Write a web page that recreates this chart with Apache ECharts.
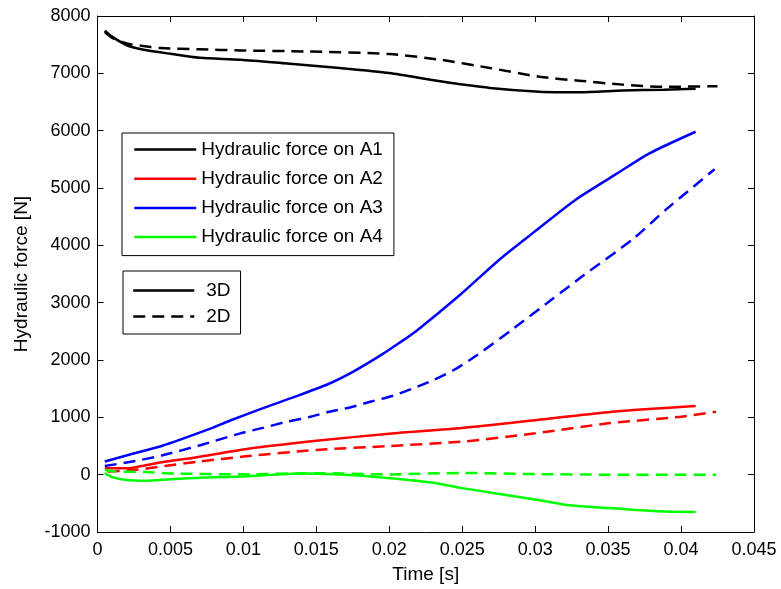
<!DOCTYPE html>
<html>
<head>
<meta charset="utf-8">
<title>Hydraulic force</title>
<script src="https://cdn.jsdelivr.net/npm/echarts@6/dist/echarts.min.js"></script>
<style>
  html, body { margin: 0; padding: 0; background: #fff; }
  #chart { width: 781px; height: 589px; }
</style>
</head>
<body>
<div id="chart"></div>
<script>
// Time samples [s] and hydraulic force [N] for each area, 3D and 2D models
const tA1_3D = [0.0005, 0.001, 0.002, 0.003, 0.005, 0.007, 0.0098, 0.013, 0.0166, 0.02, 0.0235, 0.0269, 0.0303, 0.033, 0.036, 0.0388, 0.041];
const fA1_3D = [7746, 7640, 7490, 7420, 7340, 7270, 7237, 7170, 7093, 7006, 6860, 6745, 6680, 6670, 6700, 6715, 6730];
const tA1_2D = [0.0005, 0.001, 0.002, 0.003, 0.0043, 0.007, 0.0098, 0.0143, 0.02, 0.0235, 0.0269, 0.0303, 0.033, 0.036, 0.0388, 0.0425];
const fA1_2D = [7720, 7620, 7520, 7480, 7440, 7420, 7399, 7381, 7336, 7237, 7093, 6940, 6872, 6803, 6765, 6775];

const tA2_3D = [0.0005, 0.002, 0.003, 0.0044, 0.0067, 0.01, 0.015, 0.02, 0.025, 0.03, 0.035, 0.041];
const fA2_3D = [113, 110, 150, 217, 300, 440, 590, 715, 815, 950, 1090, 1196];
const tA2_2D = [0.0007, 0.0026, 0.0046, 0.007, 0.01, 0.015, 0.02, 0.025, 0.03, 0.035, 0.04, 0.0424];
const fA2_2D = [55, 84, 150, 230, 316, 431, 500, 577, 721, 895, 1011, 1098];

const tA3_3D = [0.0005, 0.0021, 0.0044, 0.0075, 0.0091, 0.0114, 0.0136, 0.0159, 0.0175, 0.0194, 0.0207, 0.0219, 0.0248, 0.0276, 0.0299, 0.0328, 0.0356, 0.0378, 0.041];
const fA3_3D = [229, 344, 500, 780, 945, 1165, 1365, 1590, 1793, 2080, 2300, 2516, 3124, 3762, 4226, 4800, 5250, 5600, 5981];
const tA3_2D = [0.0005, 0.0026, 0.0044, 0.0071, 0.0098, 0.0114, 0.013, 0.0146, 0.0159, 0.0173, 0.0187, 0.0203, 0.0216, 0.023, 0.0244, 0.026, 0.0285, 0.0312, 0.0333, 0.0367, 0.039, 0.0423];
const fA3_2D = [150, 240, 333, 518, 721, 820, 924, 1011, 1098, 1173, 1272, 1380, 1503, 1647, 1821, 2082, 2546, 3067, 3472, 4109, 4631, 5326];

const tA4_3D = [0.0005, 0.001, 0.0019, 0.0033, 0.005, 0.0075, 0.01, 0.0141, 0.0178, 0.02, 0.0232, 0.025, 0.0301, 0.0324, 0.0351, 0.0385, 0.041];
const fA4_3D = [26, -40, -90, -107, -80, -50, -31, 20, -14, -61, -148, -235, -437, -535, -582, -640, -652];
const tA4_2D = [0.0005, 0.0012, 0.0033, 0.0053, 0.01, 0.015, 0.02, 0.025, 0.03, 0.035, 0.04, 0.0424];
const fA4_2D = [80, 55, 45, 20, 5, 26, 5, 30, 10, 0, 0, 0];

const areaNames = ['Hydraulic force on A1', 'Hydraulic force on A2', 'Hydraulic force on A3', 'Hydraulic force on A4'];
const modelNames = ['3D', '2D'];
const xTicks = { min: 0, max: 0.045, interval: 0.005 };
const yTicks = { min: -1000, max: 8000, interval: 1000 };

const colors = ['#000000', '#ff0000', '#0000ff', '#00ff00'];
const dash = [12, 7];
const FONT = 'Liberation Sans, Arial, sans-serif';
const LW = 2.5;

const pairs = (t, v) => t.map((x, i) => [x, v[i]]);

const curves = [
  [tA1_3D, fA1_3D, tA1_2D, fA1_2D],
  [tA2_3D, fA2_3D, tA2_2D, fA2_2D],
  [tA3_3D, fA3_3D, tA3_2D, fA3_2D],
  [tA4_3D, fA4_3D, tA4_2D, fA4_2D]
];

const lineSeries = (name, data, color, type) => ({
  name, type: 'line', data, symbol: 'none', silent: true, color,
  smooth: 0.25,
  lineStyle: { color, width: LW, type }
});

const series = [];
curves.forEach((c, i) => series.push(lineSeries(areaNames[i], pairs(c[0], c[1]), colors[i], 'solid')));
curves.forEach((c, i) => series.push(lineSeries(areaNames[i] + ' 2D', pairs(c[2], c[3]), colors[i], dash)));
// Style-only entries for the model legend
series.push(lineSeries(modelNames[0], [], '#000', 'solid'));
series.push(lineSeries(modelNames[1], [], '#000', dash));

const tickStyle = { inside: true, length: 6, lineStyle: { color: '#000', width: 1 } };
const lineStyle = { show: true, onZero: false, lineStyle: { color: '#000', width: 1 } };
const nameFont = { fontFamily: FONT, fontSize: 19, color: '#000' };

const legendBase = {
  orient: 'vertical', itemHeight: 14, selectedMode: false,
  borderColor: '#000', borderWidth: 1, backgroundColor: '#fff',
  itemStyle: { opacity: 0 },
  lineStyle: { width: LW }
};

const option = {
  animation: false,
  backgroundColor: '#fff',
  textStyle: { fontFamily: FONT },
  grid: { left: 97.5, right: 27, top: 16, bottom: 55, containLabel: false },
  xAxis: [
    {
      type: 'value', position: 'bottom', ...xTicks,
      name: 'Time [s]', nameLocation: 'middle', nameGap: 33,
      nameTextStyle: nameFont,
      axisLine: lineStyle, axisTick: tickStyle, splitLine: { show: false },
      axisLabel: { color: '#000', fontFamily: FONT, fontSize: 18, margin: 9,
        formatter: v => String(+v.toFixed(4)) }
    },
    {
      type: 'value', position: 'top', ...xTicks,
      axisLine: lineStyle, axisTick: tickStyle, splitLine: { show: false },
      axisLabel: { show: false }
    }
  ],
  yAxis: [
    {
      type: 'value', position: 'left', ...yTicks,
      name: 'Hydraulic force [N]', nameLocation: 'middle', nameGap: 66, nameRotate: 90,
      nameTextStyle: nameFont,
      axisLine: lineStyle, axisTick: tickStyle, splitLine: { show: false },
      axisLabel: { color: '#000', fontFamily: FONT, fontSize: 18, margin: 7,
        formatter: v => String(v) }
    },
    {
      type: 'value', position: 'right', ...yTicks,
      axisLine: lineStyle, axisTick: tickStyle, splitLine: { show: false },
      axisLabel: { show: false }
    }
  ],
  legend: [
    {
      ...legendBase,
      data: areaNames, left: 122, top: 133,
      itemWidth: 62, itemGap: 10.2, padding: [7, 11, 9, 11],
      textStyle: { fontFamily: FONT, fontSize: 19, color: '#000', lineHeight: 18.5 }
    },
    {
      ...legendBase,
      data: modelNames, left: 123, top: 271,
      itemWidth: 61, itemGap: 7, padding: [10, 10, 8, 9],
      textStyle: { fontFamily: FONT, fontSize: 19, color: '#000', lineHeight: 18, padding: [0, 0, 0, 7] }
    }
  ],
  series: series
};

const chart = echarts.init(document.getElementById('chart'), null, { renderer: 'canvas' });
chart.setOption(option);
</script>
</body>
</html>
